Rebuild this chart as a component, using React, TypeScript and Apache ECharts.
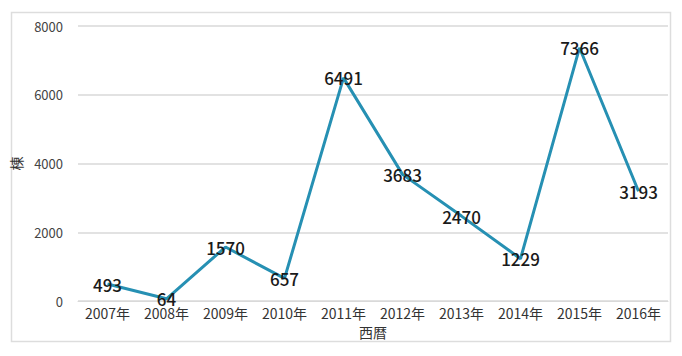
import React, { useEffect, useRef } from "react";
import * as echarts from "echarts";

const categories = ["2007年", "2008年", "2009年", "2010年", "2011年", "2012年", "2013年", "2014年", "2015年", "2016年"];
const values = [493, 64, 1570, 657, 6491, 3683, 2470, 1229, 7366, 3193];
const yTicks = [0, 2000, 4000, 6000, 8000];

const FONT = "'Noto Sans CJK JP', 'Noto Sans', sans-serif";

export default function App() {
  const ref = useRef<HTMLDivElement>(null);
  useEffect(() => {
    if (!ref.current) return;
    const chart = echarts.init(ref.current, undefined, { renderer: "svg" });
    chart.setOption({
      animation: false,
      backgroundColor: "#ffffff",
      graphic: [
        {
          type: "rect",
          shape: { x: 11.5, y: 12.5, width: 659, height: 329 },
          style: { fill: "none", stroke: "#dddddd", lineWidth: 1.5 },
          silent: true,
        },
      ],
      grid: { left: 78, right: 14, top: 26, bottom: 55 },
      xAxis: {
        type: "category",
        data: categories,
        name: "西暦",
        nameLocation: "middle",
        nameGap: 22,
        nameTextStyle: { color: "#333", fontSize: 14, fontFamily: FONT },
        axisLine: { lineStyle: { color: "#d9d9d9", width: 1 } },
        axisTick: { show: false },
        axisLabel: { color: "#333", fontSize: 14, fontFamily: FONT, margin: 5 },
      },
      yAxis: {
        type: "value",
        min: yTicks[0],
        max: yTicks[yTicks.length - 1],
        interval: 2000,
        name: "棟",
        nameLocation: "middle",
        nameRotate: 90,
        nameGap: 52,
        nameTextStyle: { color: "#333", fontSize: 14, fontFamily: FONT },
        axisLine: { show: false },
        axisTick: { show: false },
        axisLabel: {
          color: "#444",
          fontSize: 13,
          fontFamily: FONT,
          margin: 15,
          formatter: (v: number) => String(v),
        },
        splitLine: { lineStyle: { color: "#d9d9d9", width: 1.5 } },
      },
      series: [
        {
          type: "line",
          data: values,
          showSymbol: true,
          symbol: "circle",
          symbolSize: 2,
          lineStyle: { color: "#2690b3", width: 3 },
          itemStyle: { color: "rgba(0,0,0,0)", borderWidth: 0 },
          label: {
            show: true,
            position: "inside",
            color: "#1a1a1a",
            fontSize: 17,
            fontWeight: 500,
            fontFamily: FONT,
          },
        },
      ],
    });
    return () => chart.dispose();
  }, []);
  return (
    <div
      ref={ref}
      style={{ position: "fixed", left: 0, top: 0, width: 682, height: 356 }}
    />
  );
}
